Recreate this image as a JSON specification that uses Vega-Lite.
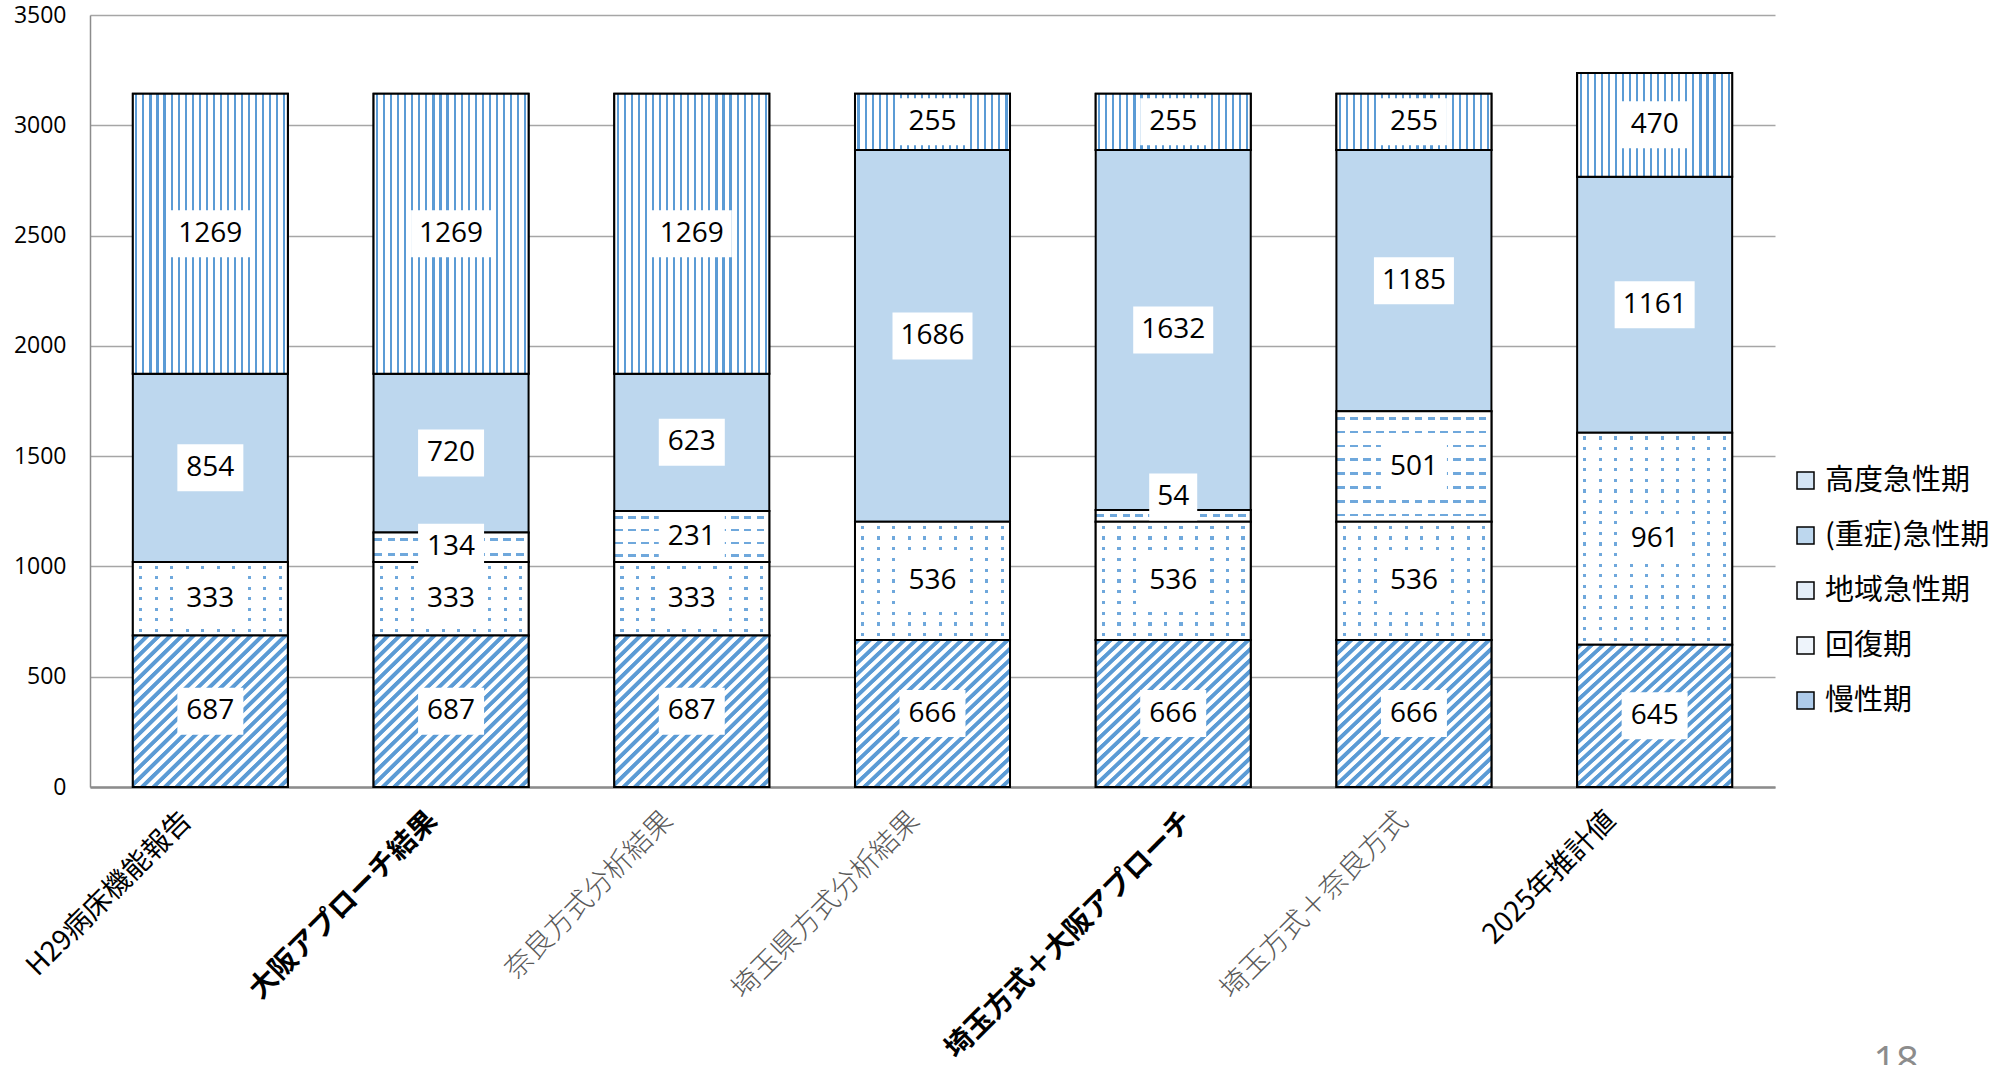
{
  "$schema": "https://vega.github.io/schema/vega-lite/v6.json",
  "width": 1685,
  "height": 772,
  "autosize": "none",
  "padding": {"left": 90, "top": 15, "right": 235, "bottom": 278},
  "background": "#ffffff",
  "title": {
    "text": "18",
    "orient": "bottom",
    "anchor": "end",
    "frame": "group",
    "dx": 144,
    "dy": -20,
    "offset": 0,
    "font": "Open Sans",
    "fontSize": 40,
    "fontWeight": "normal",
    "color": "#8c8c8c"
  },
  "data": {
    "values": [
      {"bar": "H29病床機能報告", "p": "慢性期", "value": 687},
      {"bar": "H29病床機能報告", "p": "回復期", "value": 333},
      {"bar": "H29病床機能報告", "p": "(重症)急性期", "value": 854},
      {"bar": "H29病床機能報告", "p": "高度急性期", "value": 1269},
      {"bar": "大阪アプローチ結果", "p": "慢性期", "value": 687},
      {"bar": "大阪アプローチ結果", "p": "回復期", "value": 333},
      {"bar": "大阪アプローチ結果", "p": "地域急性期", "value": 134},
      {"bar": "大阪アプローチ結果", "p": "(重症)急性期", "value": 720},
      {"bar": "大阪アプローチ結果", "p": "高度急性期", "value": 1269},
      {"bar": "奈良方式分析結果", "p": "慢性期", "value": 687},
      {"bar": "奈良方式分析結果", "p": "回復期", "value": 333},
      {"bar": "奈良方式分析結果", "p": "地域急性期", "value": 231},
      {"bar": "奈良方式分析結果", "p": "(重症)急性期", "value": 623},
      {"bar": "奈良方式分析結果", "p": "高度急性期", "value": 1269},
      {"bar": "埼玉県方式分析結果", "p": "慢性期", "value": 666},
      {"bar": "埼玉県方式分析結果", "p": "回復期", "value": 536},
      {"bar": "埼玉県方式分析結果", "p": "(重症)急性期", "value": 1686},
      {"bar": "埼玉県方式分析結果", "p": "高度急性期", "value": 255},
      {"bar": "埼玉方式＋大阪アプローチ", "p": "慢性期", "value": 666},
      {"bar": "埼玉方式＋大阪アプローチ", "p": "回復期", "value": 536},
      {"bar": "埼玉方式＋大阪アプローチ", "p": "地域急性期", "value": 54},
      {"bar": "埼玉方式＋大阪アプローチ", "p": "(重症)急性期", "value": 1632},
      {"bar": "埼玉方式＋大阪アプローチ", "p": "高度急性期", "value": 255},
      {"bar": "埼玉方式＋奈良方式", "p": "慢性期", "value": 666},
      {"bar": "埼玉方式＋奈良方式", "p": "回復期", "value": 536},
      {"bar": "埼玉方式＋奈良方式", "p": "地域急性期", "value": 501},
      {"bar": "埼玉方式＋奈良方式", "p": "(重症)急性期", "value": 1185},
      {"bar": "埼玉方式＋奈良方式", "p": "高度急性期", "value": 255},
      {"bar": "2025年推計値", "p": "慢性期", "value": 645},
      {"bar": "2025年推計値", "p": "回復期", "value": 961},
      {"bar": "2025年推計値", "p": "(重症)急性期", "value": 1161},
      {"bar": "2025年推計値", "p": "高度急性期", "value": 470}
    ]
  },
  "transform": [
    {"calculate": "indexof(['慢性期','回復期','地域急性期','(重症)急性期','高度急性期'], datum.p)", "as": "k"},
    {"stack": "value", "groupby": ["bar"], "sort": [{"field": "k", "order": "ascending"}], "as": ["v0", "v1"]},
    {"calculate": "(datum.v0 + datum.v1) / 2", "as": "mid"}
  ],
  "encoding": {
    "x": {
      "field": "bar",
      "type": "nominal",
      "sort": ["H29病床機能報告", "大阪アプローチ結果", "奈良方式分析結果", "埼玉県方式分析結果", "埼玉方式＋大阪アプローチ", "埼玉方式＋奈良方式", "2025年推計値"],
      "scale": {"paddingInner": 0.356, "paddingOuter": 0.178},
      "axis": {
        "title": null,
        "labelAngle": -45,
        "labelAlign": "right",
        "labelBaseline": "middle",
        "labelFont": "Noto Sans CJK JP",
        "labelFontSize": 28,
        "labelPadding": 29,
        "labelLimit": 0,
        "labelOverlap": false,
        "ticks": false,
        "domainColor": "#8c8c8c",
        "domainWidth": 2.5,
        "labelColor": {"expr": "indexof(['奈良方式分析結果','埼玉県方式分析結果','埼玉方式＋奈良方式'], datum.value) >= 0 ? '#595959' : '#000000'"},
        "labelFontWeight": {"expr": "indexof(['大阪アプローチ結果','埼玉方式＋大阪アプローチ'], datum.value) >= 0 ? 'bold' : (indexof(['奈良方式分析結果','埼玉県方式分析結果','埼玉方式＋奈良方式'], datum.value) >= 0 ? 300 : 'normal')"},
        "labelOffset": {"expr": "datum.value == 'H29病床機能報告' ? -23 : datum.value == '大阪アプローチ結果' ? -18 : datum.value == '奈良方式分析結果' ? -23 : datum.value == '埼玉県方式分析結果' ? -17 : datum.value == '埼玉方式＋大阪アプローチ' ? 15 : datum.value == '埼玉方式＋奈良方式' ? -10 : -43"}
      }
    }
  },
  "layer": [
    {
      "mark": {"type": "bar", "stroke": "#000000", "strokeWidth": 2, "opacity": 1},
      "encoding": {
        "y": {
          "field": "v0",
          "type": "quantitative",
          "scale": {"domain": [0, 3500], "nice": false},
          "axis": {
            "title": null,
            "values": [0, 500, 1000, 1500, 2000, 2500, 3000, 3500],
            "format": "d",
            "labelFont": "Open Sans",
            "labelFontSize": 23,
            "labelColor": "#000000",
            "labelPadding": 24,
            "ticks": false,
            "domainColor": "#8c8c8c",
            "domainWidth": 1.5,
            "grid": true,
            "gridColor": "#a6a6a6",
            "gridWidth": 1.5
          }
        },
        "y2": {"field": "v1"},
        "color": {
          "field": "p",
          "type": "nominal",
          "scale": {
            "domain": ["高度急性期", "(重症)急性期", "地域急性期", "回復期", "慢性期"],
            "range": ["#d4e4f4", "#bdd7ee", "#e4eef8", "#eef4fb", "#aecbea"]
          },
          "legend": {
            "title": null,
            "orient": "none",
            "legendX": 1701,
            "legendY": 451,
            "padding": 0,
            "symbolType": "square",
            "symbolSize": 289,
            "symbolStrokeColor": "#000000",
            "symbolStrokeWidth": 1.5,
            "symbolOpacity": 1,
            "labelFont": "Noto Sans CJK JP",
            "labelFontSize": 29,
            "labelColor": "#000000",
            "labelOffset": 5,
            "labelLimit": 0,
            "rowPadding": 25,
            "encode": {
              "symbols": {
                "update": {
                  "fill": {"signal": "datum.value === '高度急性期' ? {gradient: 'linear', x1: 0, y1: 0, x2: 1, y2: 0, stops: [{offset: 0, color: '#ffffff'}, {offset: 0.3, color: '#ffffff'}, {offset: 0.3, color: '#5b9bd5'}, {offset: 0.42, color: '#5b9bd5'}, {offset: 0.42, color: '#ffffff'}, {offset: 0.62, color: '#ffffff'}, {offset: 0.62, color: '#5b9bd5'}, {offset: 0.74, color: '#5b9bd5'}, {offset: 0.74, color: '#ffffff'}, {offset: 1, color: '#ffffff'}]} : datum.value === '(重症)急性期' ? '#bdd7ee' : datum.value === '地域急性期' ? {gradient: 'linear', x1: 0, y1: 0, x2: 0, y2: 1, stops: [{offset: 0, color: '#ffffff'}, {offset: 0.42, color: '#ffffff'}, {offset: 0.42, color: '#5b9bd5'}, {offset: 0.58, color: '#5b9bd5'}, {offset: 0.58, color: '#ffffff'}, {offset: 1, color: '#ffffff'}]} : datum.value === '回復期' ? {gradient: 'linear', x1: 0, y1: 0, x2: 1, y2: 1, stops: [{offset: 0, color: '#ffffff'}, {offset: 0.2, color: '#ffffff'}, {offset: 0.2, color: '#9dc3e6'}, {offset: 0.3, color: '#9dc3e6'}, {offset: 0.3, color: '#ffffff'}, {offset: 0.7, color: '#ffffff'}, {offset: 0.7, color: '#9dc3e6'}, {offset: 0.8, color: '#9dc3e6'}, {offset: 0.8, color: '#ffffff'}, {offset: 1, color: '#ffffff'}]} : {gradient: 'linear', x1: 0, y1: 0, x2: 1, y2: 1, stops: [{offset: 0, color: '#ffffff'}, {offset: 0.32, color: '#ffffff'}, {offset: 0.32, color: '#5b9bd5'}, {offset: 0.68, color: '#5b9bd5'}, {offset: 0.68, color: '#ffffff'}, {offset: 1, color: '#ffffff'}]}"},
                  "stroke": {"value": "#000000"},
                  "strokeWidth": {"value": 1.5}
                }
              }
            }
          }
        }
      }
    },
    {
      "transform": [{"filter": "datum.p === '高度急性期'"}],
      "mark": {"type": "bar", "stroke": "#000000", "strokeWidth": 2, "opacity": 1,
        "fill": {"gradient": "linear", "x1": 0, "y1": 0, "x2": 1, "y2": 0, "stops": [
          {"offset": 0, "color": "#ffffff"},
          {"offset": 0.0159, "color": "#ffffff"}, {"offset": 0.0159, "color": "#5b9bd5"}, {"offset": 0.0295, "color": "#5b9bd5"}, {"offset": 0.0295, "color": "#ffffff"},
          {"offset": 0.0614, "color": "#ffffff"}, {"offset": 0.0614, "color": "#5b9bd5"}, {"offset": 0.0750, "color": "#5b9bd5"}, {"offset": 0.0750, "color": "#ffffff"},
          {"offset": 0.1068, "color": "#ffffff"}, {"offset": 0.1068, "color": "#5b9bd5"}, {"offset": 0.1205, "color": "#5b9bd5"}, {"offset": 0.1205, "color": "#ffffff"},
          {"offset": 0.1523, "color": "#ffffff"}, {"offset": 0.1523, "color": "#5b9bd5"}, {"offset": 0.1659, "color": "#5b9bd5"}, {"offset": 0.1659, "color": "#ffffff"},
          {"offset": 0.1977, "color": "#ffffff"}, {"offset": 0.1977, "color": "#5b9bd5"}, {"offset": 0.2114, "color": "#5b9bd5"}, {"offset": 0.2114, "color": "#ffffff"},
          {"offset": 0.2432, "color": "#ffffff"}, {"offset": 0.2432, "color": "#5b9bd5"}, {"offset": 0.2568, "color": "#5b9bd5"}, {"offset": 0.2568, "color": "#ffffff"},
          {"offset": 0.2886, "color": "#ffffff"}, {"offset": 0.2886, "color": "#5b9bd5"}, {"offset": 0.3023, "color": "#5b9bd5"}, {"offset": 0.3023, "color": "#ffffff"},
          {"offset": 0.3341, "color": "#ffffff"}, {"offset": 0.3341, "color": "#5b9bd5"}, {"offset": 0.3477, "color": "#5b9bd5"}, {"offset": 0.3477, "color": "#ffffff"},
          {"offset": 0.3795, "color": "#ffffff"}, {"offset": 0.3795, "color": "#5b9bd5"}, {"offset": 0.3932, "color": "#5b9bd5"}, {"offset": 0.3932, "color": "#ffffff"},
          {"offset": 0.4250, "color": "#ffffff"}, {"offset": 0.4250, "color": "#5b9bd5"}, {"offset": 0.4386, "color": "#5b9bd5"}, {"offset": 0.4386, "color": "#ffffff"},
          {"offset": 0.4705, "color": "#ffffff"}, {"offset": 0.4705, "color": "#5b9bd5"}, {"offset": 0.4841, "color": "#5b9bd5"}, {"offset": 0.4841, "color": "#ffffff"},
          {"offset": 0.5159, "color": "#ffffff"}, {"offset": 0.5159, "color": "#5b9bd5"}, {"offset": 0.5295, "color": "#5b9bd5"}, {"offset": 0.5295, "color": "#ffffff"},
          {"offset": 0.5614, "color": "#ffffff"}, {"offset": 0.5614, "color": "#5b9bd5"}, {"offset": 0.5750, "color": "#5b9bd5"}, {"offset": 0.5750, "color": "#ffffff"},
          {"offset": 0.6068, "color": "#ffffff"}, {"offset": 0.6068, "color": "#5b9bd5"}, {"offset": 0.6205, "color": "#5b9bd5"}, {"offset": 0.6205, "color": "#ffffff"},
          {"offset": 0.6523, "color": "#ffffff"}, {"offset": 0.6523, "color": "#5b9bd5"}, {"offset": 0.6659, "color": "#5b9bd5"}, {"offset": 0.6659, "color": "#ffffff"},
          {"offset": 0.6977, "color": "#ffffff"}, {"offset": 0.6977, "color": "#5b9bd5"}, {"offset": 0.7114, "color": "#5b9bd5"}, {"offset": 0.7114, "color": "#ffffff"},
          {"offset": 0.7432, "color": "#ffffff"}, {"offset": 0.7432, "color": "#5b9bd5"}, {"offset": 0.7568, "color": "#5b9bd5"}, {"offset": 0.7568, "color": "#ffffff"},
          {"offset": 0.7886, "color": "#ffffff"}, {"offset": 0.7886, "color": "#5b9bd5"}, {"offset": 0.8023, "color": "#5b9bd5"}, {"offset": 0.8023, "color": "#ffffff"},
          {"offset": 0.8341, "color": "#ffffff"}, {"offset": 0.8341, "color": "#5b9bd5"}, {"offset": 0.8477, "color": "#5b9bd5"}, {"offset": 0.8477, "color": "#ffffff"},
          {"offset": 0.8795, "color": "#ffffff"}, {"offset": 0.8795, "color": "#5b9bd5"}, {"offset": 0.8932, "color": "#5b9bd5"}, {"offset": 0.8932, "color": "#ffffff"},
          {"offset": 0.9250, "color": "#ffffff"}, {"offset": 0.9250, "color": "#5b9bd5"}, {"offset": 0.9386, "color": "#5b9bd5"}, {"offset": 0.9386, "color": "#ffffff"},
          {"offset": 0.9705, "color": "#ffffff"}, {"offset": 0.9705, "color": "#5b9bd5"}, {"offset": 0.9841, "color": "#5b9bd5"}, {"offset": 0.9841, "color": "#ffffff"},
          {"offset": 1, "color": "#ffffff"}
        ]}
      },
      "encoding": {"y": {"field": "v0", "type": "quantitative"}, "y2": {"field": "v1"}}
    },
    {
      "transform": [{"filter": "datum.p === '地域急性期' && datum.value >= 400"}],
      "mark": {"type": "bar", "stroke": null, "opacity": 1,
        "fill": {"gradient": "linear", "x1": 0, "y1": 0, "x2": 0, "y2": 1, "stops": [
          {"offset": 0, "color": "#ffffff"},
          {"offset": 0.050, "color": "#ffffff"}, {"offset": 0.050, "color": "#6fa8dc"}, {"offset": 0.075, "color": "#6fa8dc"}, {"offset": 0.075, "color": "#ffffff"},
          {"offset": 0.175, "color": "#ffffff"}, {"offset": 0.175, "color": "#6fa8dc"}, {"offset": 0.200, "color": "#6fa8dc"}, {"offset": 0.200, "color": "#ffffff"},
          {"offset": 0.300, "color": "#ffffff"}, {"offset": 0.300, "color": "#6fa8dc"}, {"offset": 0.325, "color": "#6fa8dc"}, {"offset": 0.325, "color": "#ffffff"},
          {"offset": 0.425, "color": "#ffffff"}, {"offset": 0.425, "color": "#6fa8dc"}, {"offset": 0.450, "color": "#6fa8dc"}, {"offset": 0.450, "color": "#ffffff"},
          {"offset": 0.550, "color": "#ffffff"}, {"offset": 0.550, "color": "#6fa8dc"}, {"offset": 0.575, "color": "#6fa8dc"}, {"offset": 0.575, "color": "#ffffff"},
          {"offset": 0.675, "color": "#ffffff"}, {"offset": 0.675, "color": "#6fa8dc"}, {"offset": 0.700, "color": "#6fa8dc"}, {"offset": 0.700, "color": "#ffffff"},
          {"offset": 0.800, "color": "#ffffff"}, {"offset": 0.800, "color": "#6fa8dc"}, {"offset": 0.825, "color": "#6fa8dc"}, {"offset": 0.825, "color": "#ffffff"},
          {"offset": 0.925, "color": "#ffffff"}, {"offset": 0.925, "color": "#6fa8dc"}, {"offset": 0.950, "color": "#6fa8dc"}, {"offset": 0.950, "color": "#ffffff"},
          {"offset": 1, "color": "#ffffff"}
        ]}
      },
      "encoding": {"y": {"field": "v0", "type": "quantitative"}, "y2": {"field": "v1"}}
    },
    {
      "transform": [{"filter": "datum.p === '地域急性期' && datum.value >= 200 && datum.value < 400"}],
      "mark": {"type": "bar", "stroke": null, "opacity": 1,
        "fill": {"gradient": "linear", "x1": 0, "y1": 0, "x2": 0, "y2": 1, "stops": [
          {"offset": 0, "color": "#ffffff"},
          {"offset": 0.10, "color": "#ffffff"}, {"offset": 0.10, "color": "#6fa8dc"}, {"offset": 0.15, "color": "#6fa8dc"}, {"offset": 0.15, "color": "#ffffff"},
          {"offset": 0.35, "color": "#ffffff"}, {"offset": 0.35, "color": "#6fa8dc"}, {"offset": 0.40, "color": "#6fa8dc"}, {"offset": 0.40, "color": "#ffffff"},
          {"offset": 0.60, "color": "#ffffff"}, {"offset": 0.60, "color": "#6fa8dc"}, {"offset": 0.65, "color": "#6fa8dc"}, {"offset": 0.65, "color": "#ffffff"},
          {"offset": 0.85, "color": "#ffffff"}, {"offset": 0.85, "color": "#6fa8dc"}, {"offset": 0.90, "color": "#6fa8dc"}, {"offset": 0.90, "color": "#ffffff"},
          {"offset": 1, "color": "#ffffff"}
        ]}
      },
      "encoding": {"y": {"field": "v0", "type": "quantitative"}, "y2": {"field": "v1"}}
    },
    {
      "transform": [{"filter": "datum.p === '地域急性期' && datum.value >= 100 && datum.value < 200"}],
      "mark": {"type": "bar", "stroke": null, "opacity": 1,
        "fill": {"gradient": "linear", "x1": 0, "y1": 0, "x2": 0, "y2": 1, "stops": [
          {"offset": 0, "color": "#ffffff"},
          {"offset": 0.20, "color": "#ffffff"}, {"offset": 0.20, "color": "#6fa8dc"}, {"offset": 0.30, "color": "#6fa8dc"}, {"offset": 0.30, "color": "#ffffff"},
          {"offset": 0.70, "color": "#ffffff"}, {"offset": 0.70, "color": "#6fa8dc"}, {"offset": 0.80, "color": "#6fa8dc"}, {"offset": 0.80, "color": "#ffffff"},
          {"offset": 1, "color": "#ffffff"}
        ]}
      },
      "encoding": {"y": {"field": "v0", "type": "quantitative"}, "y2": {"field": "v1"}}
    },
    {
      "transform": [{"filter": "datum.p === '地域急性期' && datum.value < 100"}],
      "mark": {"type": "bar", "stroke": null, "opacity": 1,
        "fill": {"gradient": "linear", "x1": 0, "y1": 0, "x2": 0, "y2": 1, "stops": [
          {"offset": 0, "color": "#ffffff"},
          {"offset": 0.375, "color": "#ffffff"}, {"offset": 0.375, "color": "#6fa8dc"}, {"offset": 0.625, "color": "#6fa8dc"}, {"offset": 0.625, "color": "#ffffff"},
          {"offset": 1, "color": "#ffffff"}
        ]}
      },
      "encoding": {"y": {"field": "v0", "type": "quantitative"}, "y2": {"field": "v1"}}
    },
    {
      "transform": [{"filter": "datum.p === '地域急性期'"}],
      "mark": {"type": "bar", "stroke": "#000000", "strokeWidth": 2, "opacity": 1,
        "fill": {"gradient": "linear", "x1": 0, "y1": 0, "x2": 1, "y2": 0, "stops": [
          {"offset": 0.00, "color": "rgba(255,255,255,0)"}, {"offset": 0.055, "color": "rgba(255,255,255,0)"}, {"offset": 0.055, "color": "#ffffff"}, {"offset": 0.09, "color": "#ffffff"},
          {"offset": 0.09, "color": "rgba(255,255,255,0)"}, {"offset": 0.138, "color": "rgba(255,255,255,0)"}, {"offset": 0.138, "color": "#ffffff"}, {"offset": 0.173, "color": "#ffffff"},
          {"offset": 0.173, "color": "rgba(255,255,255,0)"}, {"offset": 0.221, "color": "rgba(255,255,255,0)"}, {"offset": 0.221, "color": "#ffffff"}, {"offset": 0.256, "color": "#ffffff"},
          {"offset": 0.256, "color": "rgba(255,255,255,0)"}, {"offset": 0.304, "color": "rgba(255,255,255,0)"}, {"offset": 0.304, "color": "#ffffff"}, {"offset": 0.339, "color": "#ffffff"},
          {"offset": 0.339, "color": "rgba(255,255,255,0)"}, {"offset": 0.387, "color": "rgba(255,255,255,0)"}, {"offset": 0.387, "color": "#ffffff"}, {"offset": 0.422, "color": "#ffffff"},
          {"offset": 0.422, "color": "rgba(255,255,255,0)"}, {"offset": 0.470, "color": "rgba(255,255,255,0)"}, {"offset": 0.470, "color": "#ffffff"}, {"offset": 0.505, "color": "#ffffff"},
          {"offset": 0.505, "color": "rgba(255,255,255,0)"}, {"offset": 0.553, "color": "rgba(255,255,255,0)"}, {"offset": 0.553, "color": "#ffffff"}, {"offset": 0.588, "color": "#ffffff"},
          {"offset": 0.588, "color": "rgba(255,255,255,0)"}, {"offset": 0.636, "color": "rgba(255,255,255,0)"}, {"offset": 0.636, "color": "#ffffff"}, {"offset": 0.671, "color": "#ffffff"},
          {"offset": 0.671, "color": "rgba(255,255,255,0)"}, {"offset": 0.719, "color": "rgba(255,255,255,0)"}, {"offset": 0.719, "color": "#ffffff"}, {"offset": 0.754, "color": "#ffffff"},
          {"offset": 0.754, "color": "rgba(255,255,255,0)"}, {"offset": 0.802, "color": "rgba(255,255,255,0)"}, {"offset": 0.802, "color": "#ffffff"}, {"offset": 0.837, "color": "#ffffff"},
          {"offset": 0.837, "color": "rgba(255,255,255,0)"}, {"offset": 0.885, "color": "rgba(255,255,255,0)"}, {"offset": 0.885, "color": "#ffffff"}, {"offset": 0.920, "color": "#ffffff"},
          {"offset": 0.920, "color": "rgba(255,255,255,0)"}, {"offset": 0.968, "color": "rgba(255,255,255,0)"}, {"offset": 0.968, "color": "#ffffff"}, {"offset": 1.00, "color": "#ffffff"}
        ]}
      },
      "encoding": {"y": {"field": "v0", "type": "quantitative"}, "y2": {"field": "v1"}}
    },
    {
      "transform": [{"filter": "datum.p === '回復期'"}],
      "mark": {"type": "bar", "stroke": null, "opacity": 1,
        "fill": {"gradient": "linear", "x1": 0, "y1": 0, "x2": 1, "y2": 0, "stops": [
          {"offset": 0.00, "color": "#ffffff"},
          {"offset": 0.04, "color": "#ffffff"}, {"offset": 0.04, "color": "#6fa8dc"}, {"offset": 0.06, "color": "#6fa8dc"}, {"offset": 0.06, "color": "#ffffff"},
          {"offset": 0.14, "color": "#ffffff"}, {"offset": 0.14, "color": "#6fa8dc"}, {"offset": 0.16, "color": "#6fa8dc"}, {"offset": 0.16, "color": "#ffffff"},
          {"offset": 0.24, "color": "#ffffff"}, {"offset": 0.24, "color": "#6fa8dc"}, {"offset": 0.26, "color": "#6fa8dc"}, {"offset": 0.26, "color": "#ffffff"},
          {"offset": 0.34, "color": "#ffffff"}, {"offset": 0.34, "color": "#6fa8dc"}, {"offset": 0.36, "color": "#6fa8dc"}, {"offset": 0.36, "color": "#ffffff"},
          {"offset": 0.44, "color": "#ffffff"}, {"offset": 0.44, "color": "#6fa8dc"}, {"offset": 0.46, "color": "#6fa8dc"}, {"offset": 0.46, "color": "#ffffff"},
          {"offset": 0.54, "color": "#ffffff"}, {"offset": 0.54, "color": "#6fa8dc"}, {"offset": 0.56, "color": "#6fa8dc"}, {"offset": 0.56, "color": "#ffffff"},
          {"offset": 0.64, "color": "#ffffff"}, {"offset": 0.64, "color": "#6fa8dc"}, {"offset": 0.66, "color": "#6fa8dc"}, {"offset": 0.66, "color": "#ffffff"},
          {"offset": 0.74, "color": "#ffffff"}, {"offset": 0.74, "color": "#6fa8dc"}, {"offset": 0.76, "color": "#6fa8dc"}, {"offset": 0.76, "color": "#ffffff"},
          {"offset": 0.84, "color": "#ffffff"}, {"offset": 0.84, "color": "#6fa8dc"}, {"offset": 0.86, "color": "#6fa8dc"}, {"offset": 0.86, "color": "#ffffff"},
          {"offset": 0.94, "color": "#ffffff"}, {"offset": 0.94, "color": "#6fa8dc"}, {"offset": 0.96, "color": "#6fa8dc"}, {"offset": 0.96, "color": "#ffffff"},
          {"offset": 1, "color": "#ffffff"}
        ]}
      },
      "encoding": {"y": {"field": "v0", "type": "quantitative"}, "y2": {"field": "v1"}}
    },
    {
      "transform": [{"filter": "datum.p === '回復期' && datum.value < 400"}],
      "mark": {"type": "bar", "stroke": "#000000", "strokeWidth": 2, "opacity": 1,
        "fill": {"gradient": "linear", "x1": 0, "y1": 0, "x2": 0, "y2": 1, "stops": [
          {"offset": 0, "color": "#ffffff"},
          {"offset": 0.0500, "color": "#ffffff"}, {"offset": 0.0500, "color": "rgba(255,255,255,0)"}, {"offset": 0.0929, "color": "rgba(255,255,255,0)"}, {"offset": 0.0929, "color": "#ffffff"},
          {"offset": 0.1929, "color": "#ffffff"}, {"offset": 0.1929, "color": "rgba(255,255,255,0)"}, {"offset": 0.2357, "color": "rgba(255,255,255,0)"}, {"offset": 0.2357, "color": "#ffffff"},
          {"offset": 0.3357, "color": "#ffffff"}, {"offset": 0.3357, "color": "rgba(255,255,255,0)"}, {"offset": 0.3786, "color": "rgba(255,255,255,0)"}, {"offset": 0.3786, "color": "#ffffff"},
          {"offset": 0.4786, "color": "#ffffff"}, {"offset": 0.4786, "color": "rgba(255,255,255,0)"}, {"offset": 0.5214, "color": "rgba(255,255,255,0)"}, {"offset": 0.5214, "color": "#ffffff"},
          {"offset": 0.6214, "color": "#ffffff"}, {"offset": 0.6214, "color": "rgba(255,255,255,0)"}, {"offset": 0.6643, "color": "rgba(255,255,255,0)"}, {"offset": 0.6643, "color": "#ffffff"},
          {"offset": 0.7643, "color": "#ffffff"}, {"offset": 0.7643, "color": "rgba(255,255,255,0)"}, {"offset": 0.8071, "color": "rgba(255,255,255,0)"}, {"offset": 0.8071, "color": "#ffffff"},
          {"offset": 0.9071, "color": "#ffffff"}, {"offset": 0.9071, "color": "rgba(255,255,255,0)"}, {"offset": 0.9500, "color": "rgba(255,255,255,0)"}, {"offset": 0.9500, "color": "#ffffff"},
          {"offset": 1, "color": "#ffffff"}
        ]}
      },
      "encoding": {"y": {"field": "v0", "type": "quantitative"}, "y2": {"field": "v1"}}
    },
    {
      "transform": [{"filter": "datum.p === '回復期' && datum.value >= 400 && datum.value < 700"}],
      "mark": {"type": "bar", "stroke": "#000000", "strokeWidth": 2, "opacity": 1,
        "fill": {"gradient": "linear", "x1": 0, "y1": 0, "x2": 0, "y2": 1, "stops": [
          {"offset": 0, "color": "#ffffff"},
          {"offset": 0.0318, "color": "#ffffff"}, {"offset": 0.0318, "color": "rgba(255,255,255,0)"}, {"offset": 0.0591, "color": "rgba(255,255,255,0)"}, {"offset": 0.0591, "color": "#ffffff"},
          {"offset": 0.1227, "color": "#ffffff"}, {"offset": 0.1227, "color": "rgba(255,255,255,0)"}, {"offset": 0.1500, "color": "rgba(255,255,255,0)"}, {"offset": 0.1500, "color": "#ffffff"},
          {"offset": 0.2136, "color": "#ffffff"}, {"offset": 0.2136, "color": "rgba(255,255,255,0)"}, {"offset": 0.2409, "color": "rgba(255,255,255,0)"}, {"offset": 0.2409, "color": "#ffffff"},
          {"offset": 0.3045, "color": "#ffffff"}, {"offset": 0.3045, "color": "rgba(255,255,255,0)"}, {"offset": 0.3318, "color": "rgba(255,255,255,0)"}, {"offset": 0.3318, "color": "#ffffff"},
          {"offset": 0.3955, "color": "#ffffff"}, {"offset": 0.3955, "color": "rgba(255,255,255,0)"}, {"offset": 0.4227, "color": "rgba(255,255,255,0)"}, {"offset": 0.4227, "color": "#ffffff"},
          {"offset": 0.4864, "color": "#ffffff"}, {"offset": 0.4864, "color": "rgba(255,255,255,0)"}, {"offset": 0.5136, "color": "rgba(255,255,255,0)"}, {"offset": 0.5136, "color": "#ffffff"},
          {"offset": 0.5773, "color": "#ffffff"}, {"offset": 0.5773, "color": "rgba(255,255,255,0)"}, {"offset": 0.6045, "color": "rgba(255,255,255,0)"}, {"offset": 0.6045, "color": "#ffffff"},
          {"offset": 0.6682, "color": "#ffffff"}, {"offset": 0.6682, "color": "rgba(255,255,255,0)"}, {"offset": 0.6955, "color": "rgba(255,255,255,0)"}, {"offset": 0.6955, "color": "#ffffff"},
          {"offset": 0.7591, "color": "#ffffff"}, {"offset": 0.7591, "color": "rgba(255,255,255,0)"}, {"offset": 0.7864, "color": "rgba(255,255,255,0)"}, {"offset": 0.7864, "color": "#ffffff"},
          {"offset": 0.8500, "color": "#ffffff"}, {"offset": 0.8500, "color": "rgba(255,255,255,0)"}, {"offset": 0.8773, "color": "rgba(255,255,255,0)"}, {"offset": 0.8773, "color": "#ffffff"},
          {"offset": 0.9409, "color": "#ffffff"}, {"offset": 0.9409, "color": "rgba(255,255,255,0)"}, {"offset": 0.9682, "color": "rgba(255,255,255,0)"}, {"offset": 0.9682, "color": "#ffffff"},
          {"offset": 1, "color": "#ffffff"}
        ]}
      },
      "encoding": {"y": {"field": "v0", "type": "quantitative"}, "y2": {"field": "v1"}}
    },
    {
      "transform": [{"filter": "datum.p === '回復期' && datum.value >= 700"}],
      "mark": {"type": "bar", "stroke": "#000000", "strokeWidth": 2, "opacity": 1,
        "fill": {"gradient": "linear", "x1": 0, "y1": 0, "x2": 0, "y2": 1, "stops": [
          {"offset": 0, "color": "#ffffff"},
          {"offset": 0.0175, "color": "#ffffff"}, {"offset": 0.0175, "color": "rgba(255,255,255,0)"}, {"offset": 0.0325, "color": "rgba(255,255,255,0)"}, {"offset": 0.0325, "color": "#ffffff"},
          {"offset": 0.0675, "color": "#ffffff"}, {"offset": 0.0675, "color": "rgba(255,255,255,0)"}, {"offset": 0.0825, "color": "rgba(255,255,255,0)"}, {"offset": 0.0825, "color": "#ffffff"},
          {"offset": 0.1175, "color": "#ffffff"}, {"offset": 0.1175, "color": "rgba(255,255,255,0)"}, {"offset": 0.1325, "color": "rgba(255,255,255,0)"}, {"offset": 0.1325, "color": "#ffffff"},
          {"offset": 0.1675, "color": "#ffffff"}, {"offset": 0.1675, "color": "rgba(255,255,255,0)"}, {"offset": 0.1825, "color": "rgba(255,255,255,0)"}, {"offset": 0.1825, "color": "#ffffff"},
          {"offset": 0.2175, "color": "#ffffff"}, {"offset": 0.2175, "color": "rgba(255,255,255,0)"}, {"offset": 0.2325, "color": "rgba(255,255,255,0)"}, {"offset": 0.2325, "color": "#ffffff"},
          {"offset": 0.2675, "color": "#ffffff"}, {"offset": 0.2675, "color": "rgba(255,255,255,0)"}, {"offset": 0.2825, "color": "rgba(255,255,255,0)"}, {"offset": 0.2825, "color": "#ffffff"},
          {"offset": 0.3175, "color": "#ffffff"}, {"offset": 0.3175, "color": "rgba(255,255,255,0)"}, {"offset": 0.3325, "color": "rgba(255,255,255,0)"}, {"offset": 0.3325, "color": "#ffffff"},
          {"offset": 0.3675, "color": "#ffffff"}, {"offset": 0.3675, "color": "rgba(255,255,255,0)"}, {"offset": 0.3825, "color": "rgba(255,255,255,0)"}, {"offset": 0.3825, "color": "#ffffff"},
          {"offset": 0.4175, "color": "#ffffff"}, {"offset": 0.4175, "color": "rgba(255,255,255,0)"}, {"offset": 0.4325, "color": "rgba(255,255,255,0)"}, {"offset": 0.4325, "color": "#ffffff"},
          {"offset": 0.4675, "color": "#ffffff"}, {"offset": 0.4675, "color": "rgba(255,255,255,0)"}, {"offset": 0.4825, "color": "rgba(255,255,255,0)"}, {"offset": 0.4825, "color": "#ffffff"},
          {"offset": 0.5175, "color": "#ffffff"}, {"offset": 0.5175, "color": "rgba(255,255,255,0)"}, {"offset": 0.5325, "color": "rgba(255,255,255,0)"}, {"offset": 0.5325, "color": "#ffffff"},
          {"offset": 0.5675, "color": "#ffffff"}, {"offset": 0.5675, "color": "rgba(255,255,255,0)"}, {"offset": 0.5825, "color": "rgba(255,255,255,0)"}, {"offset": 0.5825, "color": "#ffffff"},
          {"offset": 0.6175, "color": "#ffffff"}, {"offset": 0.6175, "color": "rgba(255,255,255,0)"}, {"offset": 0.6325, "color": "rgba(255,255,255,0)"}, {"offset": 0.6325, "color": "#ffffff"},
          {"offset": 0.6675, "color": "#ffffff"}, {"offset": 0.6675, "color": "rgba(255,255,255,0)"}, {"offset": 0.6825, "color": "rgba(255,255,255,0)"}, {"offset": 0.6825, "color": "#ffffff"},
          {"offset": 0.7175, "color": "#ffffff"}, {"offset": 0.7175, "color": "rgba(255,255,255,0)"}, {"offset": 0.7325, "color": "rgba(255,255,255,0)"}, {"offset": 0.7325, "color": "#ffffff"},
          {"offset": 0.7675, "color": "#ffffff"}, {"offset": 0.7675, "color": "rgba(255,255,255,0)"}, {"offset": 0.7825, "color": "rgba(255,255,255,0)"}, {"offset": 0.7825, "color": "#ffffff"},
          {"offset": 0.8175, "color": "#ffffff"}, {"offset": 0.8175, "color": "rgba(255,255,255,0)"}, {"offset": 0.8325, "color": "rgba(255,255,255,0)"}, {"offset": 0.8325, "color": "#ffffff"},
          {"offset": 0.8675, "color": "#ffffff"}, {"offset": 0.8675, "color": "rgba(255,255,255,0)"}, {"offset": 0.8825, "color": "rgba(255,255,255,0)"}, {"offset": 0.8825, "color": "#ffffff"},
          {"offset": 0.9175, "color": "#ffffff"}, {"offset": 0.9175, "color": "rgba(255,255,255,0)"}, {"offset": 0.9325, "color": "rgba(255,255,255,0)"}, {"offset": 0.9325, "color": "#ffffff"},
          {"offset": 0.9675, "color": "#ffffff"}, {"offset": 0.9675, "color": "rgba(255,255,255,0)"}, {"offset": 0.9825, "color": "rgba(255,255,255,0)"}, {"offset": 0.9825, "color": "#ffffff"},
          {"offset": 1, "color": "#ffffff"}
        ]}
      },
      "encoding": {"y": {"field": "v0", "type": "quantitative"}, "y2": {"field": "v1"}}
    },
    {
      "transform": [{"filter": "datum.p === '慢性期'"}],
      "mark": {"type": "bar", "stroke": "#000000", "strokeWidth": 2, "opacity": 1,
        "fill": {"gradient": "linear", "x1": 0, "y1": 0, "x2": 1, "y2": 1, "stops": [
          {"offset": 0.0000, "color": "#ffffff"}, {"offset": 0.0037, "color": "#5b9bd5"}, {"offset": 0.0185, "color": "#5b9bd5"}, {"offset": 0.0222, "color": "#ffffff"},
          {"offset": 0.0370, "color": "#ffffff"}, {"offset": 0.0407, "color": "#5b9bd5"}, {"offset": 0.0555, "color": "#5b9bd5"}, {"offset": 0.0592, "color": "#ffffff"},
          {"offset": 0.0741, "color": "#ffffff"}, {"offset": 0.0778, "color": "#5b9bd5"}, {"offset": 0.0926, "color": "#5b9bd5"}, {"offset": 0.0963, "color": "#ffffff"},
          {"offset": 0.1111, "color": "#ffffff"}, {"offset": 0.1148, "color": "#5b9bd5"}, {"offset": 0.1296, "color": "#5b9bd5"}, {"offset": 0.1333, "color": "#ffffff"},
          {"offset": 0.1481, "color": "#ffffff"}, {"offset": 0.1518, "color": "#5b9bd5"}, {"offset": 0.1666, "color": "#5b9bd5"}, {"offset": 0.1703, "color": "#ffffff"},
          {"offset": 0.1852, "color": "#ffffff"}, {"offset": 0.1889, "color": "#5b9bd5"}, {"offset": 0.2037, "color": "#5b9bd5"}, {"offset": 0.2074, "color": "#ffffff"},
          {"offset": 0.2222, "color": "#ffffff"}, {"offset": 0.2259, "color": "#5b9bd5"}, {"offset": 0.2407, "color": "#5b9bd5"}, {"offset": 0.2444, "color": "#ffffff"},
          {"offset": 0.2593, "color": "#ffffff"}, {"offset": 0.2630, "color": "#5b9bd5"}, {"offset": 0.2778, "color": "#5b9bd5"}, {"offset": 0.2815, "color": "#ffffff"},
          {"offset": 0.2963, "color": "#ffffff"}, {"offset": 0.3000, "color": "#5b9bd5"}, {"offset": 0.3148, "color": "#5b9bd5"}, {"offset": 0.3185, "color": "#ffffff"},
          {"offset": 0.3333, "color": "#ffffff"}, {"offset": 0.3370, "color": "#5b9bd5"}, {"offset": 0.3518, "color": "#5b9bd5"}, {"offset": 0.3555, "color": "#ffffff"},
          {"offset": 0.3704, "color": "#ffffff"}, {"offset": 0.3741, "color": "#5b9bd5"}, {"offset": 0.3889, "color": "#5b9bd5"}, {"offset": 0.3926, "color": "#ffffff"},
          {"offset": 0.4074, "color": "#ffffff"}, {"offset": 0.4111, "color": "#5b9bd5"}, {"offset": 0.4259, "color": "#5b9bd5"}, {"offset": 0.4296, "color": "#ffffff"},
          {"offset": 0.4444, "color": "#ffffff"}, {"offset": 0.4481, "color": "#5b9bd5"}, {"offset": 0.4629, "color": "#5b9bd5"}, {"offset": 0.4666, "color": "#ffffff"},
          {"offset": 0.4815, "color": "#ffffff"}, {"offset": 0.4852, "color": "#5b9bd5"}, {"offset": 0.5000, "color": "#5b9bd5"}, {"offset": 0.5037, "color": "#ffffff"},
          {"offset": 0.5185, "color": "#ffffff"}, {"offset": 0.5222, "color": "#5b9bd5"}, {"offset": 0.5370, "color": "#5b9bd5"}, {"offset": 0.5407, "color": "#ffffff"},
          {"offset": 0.5556, "color": "#ffffff"}, {"offset": 0.5593, "color": "#5b9bd5"}, {"offset": 0.5741, "color": "#5b9bd5"}, {"offset": 0.5778, "color": "#ffffff"},
          {"offset": 0.5926, "color": "#ffffff"}, {"offset": 0.5963, "color": "#5b9bd5"}, {"offset": 0.6111, "color": "#5b9bd5"}, {"offset": 0.6148, "color": "#ffffff"},
          {"offset": 0.6296, "color": "#ffffff"}, {"offset": 0.6333, "color": "#5b9bd5"}, {"offset": 0.6481, "color": "#5b9bd5"}, {"offset": 0.6518, "color": "#ffffff"},
          {"offset": 0.6667, "color": "#ffffff"}, {"offset": 0.6704, "color": "#5b9bd5"}, {"offset": 0.6852, "color": "#5b9bd5"}, {"offset": 0.6889, "color": "#ffffff"},
          {"offset": 0.7037, "color": "#ffffff"}, {"offset": 0.7074, "color": "#5b9bd5"}, {"offset": 0.7222, "color": "#5b9bd5"}, {"offset": 0.7259, "color": "#ffffff"},
          {"offset": 0.7407, "color": "#ffffff"}, {"offset": 0.7444, "color": "#5b9bd5"}, {"offset": 0.7592, "color": "#5b9bd5"}, {"offset": 0.7629, "color": "#ffffff"},
          {"offset": 0.7778, "color": "#ffffff"}, {"offset": 0.7815, "color": "#5b9bd5"}, {"offset": 0.7963, "color": "#5b9bd5"}, {"offset": 0.8000, "color": "#ffffff"},
          {"offset": 0.8148, "color": "#ffffff"}, {"offset": 0.8185, "color": "#5b9bd5"}, {"offset": 0.8333, "color": "#5b9bd5"}, {"offset": 0.8370, "color": "#ffffff"},
          {"offset": 0.8519, "color": "#ffffff"}, {"offset": 0.8556, "color": "#5b9bd5"}, {"offset": 0.8704, "color": "#5b9bd5"}, {"offset": 0.8741, "color": "#ffffff"},
          {"offset": 0.8889, "color": "#ffffff"}, {"offset": 0.8926, "color": "#5b9bd5"}, {"offset": 0.9074, "color": "#5b9bd5"}, {"offset": 0.9111, "color": "#ffffff"},
          {"offset": 0.9259, "color": "#ffffff"}, {"offset": 0.9296, "color": "#5b9bd5"}, {"offset": 0.9444, "color": "#5b9bd5"}, {"offset": 0.9481, "color": "#ffffff"},
          {"offset": 0.9630, "color": "#ffffff"}, {"offset": 0.9667, "color": "#5b9bd5"}, {"offset": 0.9815, "color": "#5b9bd5"}, {"offset": 0.9852, "color": "#ffffff"},
          {"offset": 1, "color": "#ffffff"}
        ]}
      },
      "encoding": {"y": {"field": "v0", "type": "quantitative"}, "y2": {"field": "v1"}}
    },
    {
      "transform": [{"filter": "datum.value >= 1000"}],
      "mark": {"type": "point", "shape": "M-1,-0.5875H1V0.5875H-1Z", "size": 6400, "filled": true, "fill": "#ffffff", "opacity": 1, "strokeWidth": 0},
      "encoding": {"y": {"field": "mid", "type": "quantitative"}}
    },
    {
      "transform": [{"filter": "datum.value >= 100 && datum.value < 1000"}],
      "mark": {"type": "point", "shape": "M-1,-0.712H1V0.712H-1Z", "size": 4356, "filled": true, "fill": "#ffffff", "opacity": 1, "strokeWidth": 0},
      "encoding": {"y": {"field": "mid", "type": "quantitative"}}
    },
    {
      "transform": [{"filter": "datum.value < 100"}],
      "mark": {"type": "point", "shape": "M-1,-0.979H1V0.979H-1Z", "size": 2304, "filled": true, "fill": "#ffffff", "opacity": 1, "strokeWidth": 0, "yOffset": -19},
      "encoding": {"y": {"field": "mid", "type": "quantitative"}}
    },
    {
      "transform": [{"filter": "datum.value >= 100"}],
      "mark": {"type": "text", "font": "Open Sans", "fontSize": 28, "color": "#000000", "baseline": "middle", "align": "center"},
      "encoding": {"y": {"field": "mid", "type": "quantitative"}, "text": {"field": "value", "type": "quantitative"}}
    },
    {
      "transform": [{"filter": "datum.value < 100"}],
      "mark": {"type": "text", "font": "Open Sans", "fontSize": 28, "color": "#000000", "baseline": "middle", "align": "center", "dy": -19},
      "encoding": {"y": {"field": "mid", "type": "quantitative"}, "text": {"field": "value", "type": "quantitative"}}
    }
  ],
  "config": {
    "view": {"stroke": null},
    "font": "Noto Sans CJK JP"
  }
}
